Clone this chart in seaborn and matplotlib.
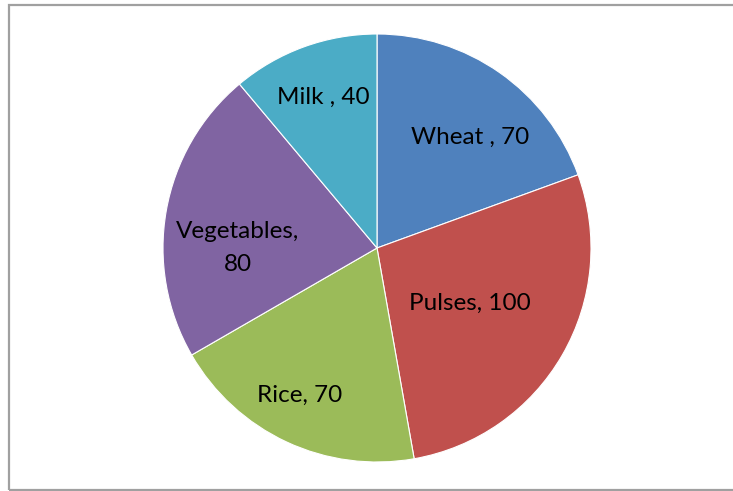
import numpy as np
import matplotlib.pyplot as plt
import seaborn as sns
from matplotlib.patches import Rectangle

# 데이터
categories = ["Wheat", "Pulses", "Rice", "Vegetables", "Milk"]
values = [70, 100, 70, 80, 40]
labels = ["Wheat , 70", "Pulses, 100", "Rice, 70", "Vegetables,\n80", "Milk , 40"]
colors = ["#4F81BD", "#C0504D", "#9BBB59", "#8064A2", "#4BACC6"]
# 라벨 위치 (반지름 1 기준)
label_xy = [(0.435, 0.515), (0.435, -0.257), (-0.36, -0.69), (-0.65, 0.0), (-0.252, 0.706)]

sns.set_theme(style="white")
plt.rcParams['font.family'] = ['Lato', 'DejaVu Sans']

W, H = 733, 491
fig = plt.figure(figsize=(W / 100, H / 100), dpi=100)
fig.patch.set_facecolor("white")

# 외곽 테두리
fig.patches.append(Rectangle((9 / W, 1.0 / H), 1.2, (486.5 - 1.0) / H,
                             transform=fig.transFigure, fill=False,
                             edgecolor="#a0a0a0", linewidth=1.6))

cx, cy, r = 377, 248, 214
ax = fig.add_axes([(cx - r) / W, (H - cy - r) / H, 2 * r / W, 2 * r / H])

wedges, _ = ax.pie(values, colors=sns.color_palette(colors), startangle=90,
                   counterclock=False, radius=1,
                   wedgeprops=dict(edgecolor="white", linewidth=0.8))

for lab, (x, y) in zip(labels, label_xy):
    ax.text(x, y, lab, ha="center", va="center",
            fontsize=17.5, color="black", linespacing=1.65)

ax.set_xlim(-1, 1)
ax.set_ylim(-1, 1)
ax.set_aspect("equal")
ax.axis("off")

fig.savefig("out.png", dpi=100)
